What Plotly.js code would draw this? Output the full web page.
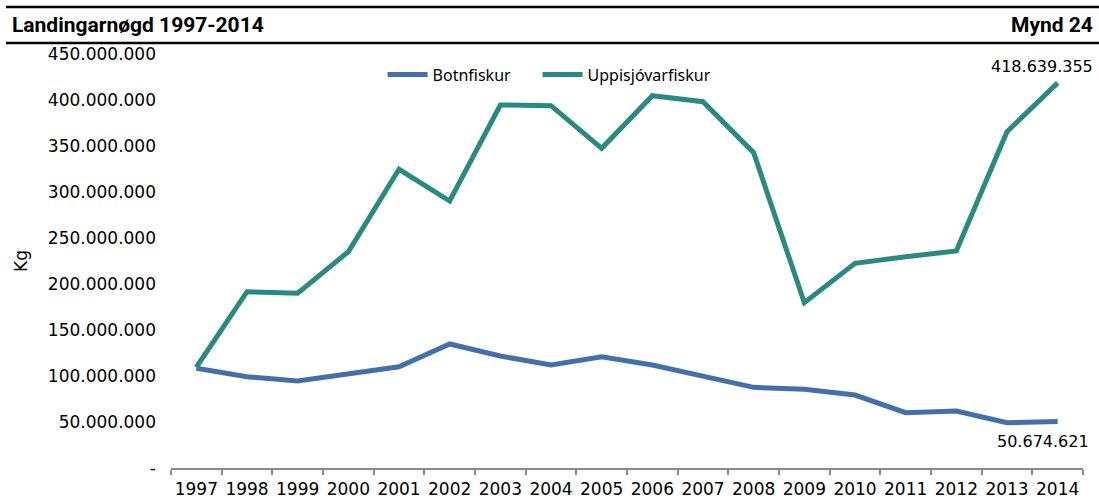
<!DOCTYPE html>
<html>
<head>
<meta charset="utf-8">
<script src="https://cdn.plot.ly/plotly-3.0.1.min.js"></script>
<style>html,body{margin:0;padding:0;background:#fff;}#chart{width:1099px;height:501px;}</style>
</head>
<body>
<div id="chart"></div>
<script>
const years = ['1997','1998','1999','2000','2001','2002','2003','2004','2005','2006','2007','2008','2009','2010','2011','2012','2013','2014'];
const botnfiskur = [108400000, 99200000, 94600000, 102200000, 110100000, 134800000, 121700000, 112000000, 121000000, 112000000, 99200000, 87700000, 85500000, 79300000, 60100000, 62000000, 49200000, 50674621];
const uppisjovarfiskur = [109500000, 191600000, 189900000, 235100000, 324700000, 290200000, 394600000, 393800000, 347500000, 404700000, 398200000, 342700000, 179700000, 222500000, 229700000, 235900000, 365500000, 418639355];
const yTickVals = [0, 50000000, 100000000, 150000000, 200000000, 250000000, 300000000, 350000000, 400000000, 450000000];
const yTickText = ['-', '50.000.000', '100.000.000', '150.000.000', '200.000.000', '250.000.000', '300.000.000', '350.000.000', '400.000.000', '450.000.000'];
const seriesNames = ['Botnfiskur', 'Uppisjóvarfiskur'];
const chartTitle = 'Landingarnøgd 1997-2014';
const figureLabel = 'Mynd 24';
const yAxisTitle = 'Kg';

function fmt(v) { return String(Math.round(v)).replace(/\B(?=(\d{3})+(?!\d))/g, '.'); }

const numFont = 'DejaVu Sans, sans-serif';
const BLUE = '#4470AA';
const TEAL = '#2A8A80';

const traces = [
  {x: years, y: botnfiskur, name: seriesNames[0], type: 'scatter', mode: 'lines',
   line: {color: BLUE, width: 5}, legend: 'legend'},
  {x: years, y: uppisjovarfiskur, name: seriesNames[1], type: 'scatter', mode: 'lines',
   line: {color: TEAL, width: 5}, legend: 'legend2'}
];

const legendBase = {orientation: 'h', xanchor: 'left', y: 0.95, yanchor: 'middle', itemwidth: 40,
  font: {family: 'Noto Sans, sans-serif', size: 16, color: '#000'}, bgcolor: 'rgba(0,0,0,0)'};

const last = years.length - 1;
const layout = {
  width: 1099, height: 501,
  margin: {l: 171, r: 16, t: 54, b: 33},
  paper_bgcolor: '#fff', plot_bgcolor: '#fff',
  font: {family: numFont, size: 17, color: '#000'},
  title: {text: '<b>' + chartTitle + '</b>', x: 12/1099, xanchor: 'left', xref: 'container',
          y: 1 - 25/501, yanchor: 'middle', yref: 'container',
          font: {family: 'Roboto, sans-serif', size: 21, color: '#000'}},
  showlegend: true,
  legend: Object.assign({}, legendBase, {x: 0.232}),
  legend2: Object.assign({}, legendBase, {x: 0.232 + 155/912}),
  xaxis: {type: 'category', range: [-0.5, 17.5], showgrid: false, zeroline: false,
          showline: true, linecolor: '#8A8A8A', linewidth: 2,
          ticks: 'outside', tickson: 'boundaries', ticklen: 5, tickwidth: 2, tickcolor: '#8A8A8A',
          tickangle: 0, ticklabelstandoff: 5,
          tickfont: {family: numFont, size: 17, color: '#000'}},
  yaxis: {range: [0, 450000000], showgrid: false, zeroline: false, showline: false,
          tickvals: yTickVals, ticktext: yTickText, ticks: '', ticklabelstandoff: 14,
          tickfont: {family: numFont, size: 17, color: '#000'},
          title: {text: yAxisTitle, standoff: 15, font: {family: numFont, size: 17, color: '#000'}}},
  shapes: [
    {type: 'line', xref: 'paper', yref: 'paper', x0: (6-171)/912, x1: (1099-171)/912,
     y0: (468-7)/414, y1: (468-7)/414, line: {color: '#000', width: 2.5}},
    {type: 'line', xref: 'paper', yref: 'paper', x0: (6-171)/912, x1: (1099-171)/912,
     y0: (468-43)/414, y1: (468-43)/414, line: {color: '#000', width: 2.5}}
  ],
  annotations: [
    {text: '<b>' + figureLabel + '</b>', xref: 'paper', yref: 'paper', x: (1095-171)/912, xanchor: 'right',
     y: (468-25)/414, yanchor: 'middle', showarrow: false,
     font: {family: 'Roboto, sans-serif', size: 21, color: '#000'}},
    {text: fmt(uppisjovarfiskur[last]), x: last, y: uppisjovarfiskur[last], xref: 'x', yref: 'y',
     showarrow: false, xanchor: 'right', xshift: 37, yshift: 16, font: {family: numFont, size: 16, color: '#000'}},
    {text: fmt(botnfiskur[last]), x: last, y: botnfiskur[last], xref: 'x', yref: 'y',
     showarrow: false, xanchor: 'right', xshift: 33, yshift: -20, font: {family: numFont, size: 16, color: '#000'}}
  ]
};

Plotly.newPlot('chart', traces, layout, {displayModeBar: false, staticPlot: true});
</script>
</body>
</html>
